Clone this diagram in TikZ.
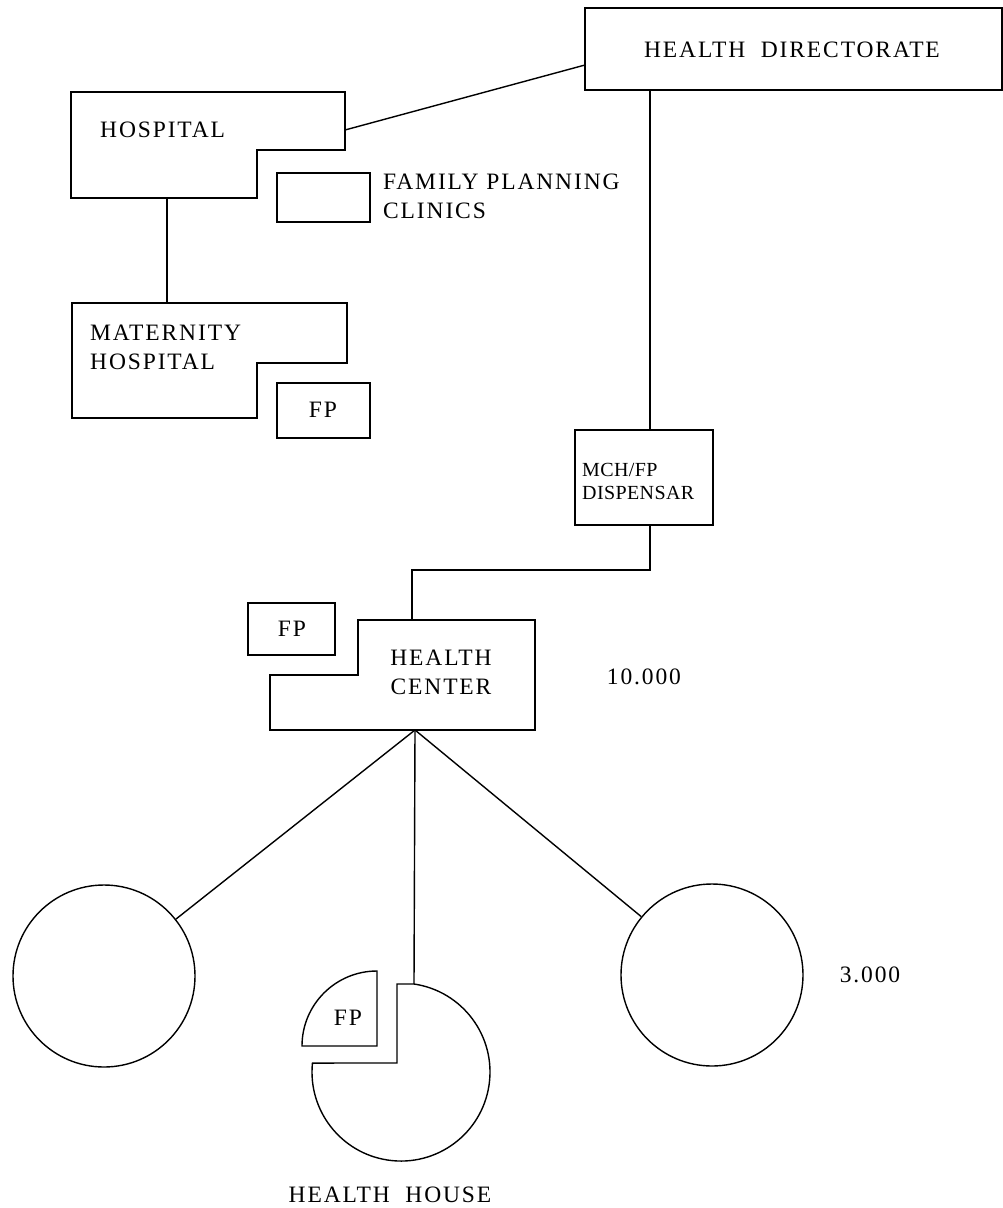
\documentclass[tikz,border=0pt]{standalone}
\usepackage{fontspec}
\setmainfont{Liberation Serif}[LetterSpace=8]
\newfontfamily\smallserif{Liberation Serif}[LetterSpace=2]
\begin{document}
\begin{tikzpicture}[x=1pt,y=-1pt,
  ln/.style={line width=1.4pt, line join=miter},
  txt/.style={inner sep=0pt, font=\fontsize{23.5}{29}\selectfont, align=left},
  smalltxt/.style={inner sep=0pt, font=\smallserif\fontsize{20}{23}\selectfont, align=left},
  ring/.style={circle, draw, line width=1.4pt, minimum size=182pt, inner sep=0pt}]
\useasboundingbox (0,0) rectangle (1003,1208);

% Health directorate
\draw[ln] (585,8) rectangle (1002,90);
\node[txt] (hd) at (792,50) {HEALTH\ \ DIRECTORATE};
\coordinate (hdL) at (585,65);
\coordinate (hdB) at (650,90);

% Hospital
\draw[ln] (71,92) -- (345,92) -- (345,150) -- (257,150) -- (257,198) -- (71,198) -- cycle;
\node[txt, anchor=west] (hosp) at (100,130) {HOSPITAL};
\coordinate (hospR) at (345,130);
\coordinate (hospB) at (167,198);

% Family planning clinics
\draw[ln] (277,173) rectangle (370,222);
\node[txt, anchor=west] (fpc) at (383,196) {FAMILY PLANNING\\CLINICS};

% Maternity hospital
\draw[ln] (72,303) -- (347,303) -- (347,363) -- (257,363) -- (257,418) -- (72,418) -- cycle;
\node[txt, anchor=west] (mat) at (90,347) {MATERNITY\\HOSPITAL};
\coordinate (matT) at (167,303);
\draw[ln] (277,383) rectangle (370,438);
\node[txt] (fp1) at (323,410) {FP};

% MCH/FP dispensary
\draw[ln] (575,430) rectangle (713,525);
\node[smalltxt, anchor=west] (mch) at (582,481) {MCH/FP\\DISPENSAR};
\coordinate (mchT) at (650,430);
\coordinate (mchB) at (650,525);
\coordinate (bend1) at (650,570);
\coordinate (bend2) at (412,570);

% Health center
\draw[ln] (358,620) -- (535,620) -- (535,730) -- (270,730) -- (270,675) -- (358,675) -- cycle;
\node[txt, align=center] (hc) at (441,672) {HEALTH\\CENTER};
\coordinate (hcT) at (412,620);
\coordinate (hcB) at (415,730);
\draw[ln] (248,603) rectangle (335,655);
\node[txt] (fp2) at (292,629) {FP};
\node[txt] (n10) at (644,677) {10.000};

% Circles
\node[ring] (lc) at (104,976) {};
\node[ring] (rc) at (712,975) {};
\node[txt] (n3) at (870,975) {3.000};

% Health house
\draw[ln] (414,984) arc[start angle=-81.6, end angle=185.8, radius=89] -- (397,1063) -- (397,984) -- cycle;
\coordinate (hhT) at (414,984);
\draw[ln] (377,1046) -- (302,1046) arc[start angle=180, end angle=270, radius=75] -- cycle;
\node[txt] (fp3) at (348,1018) {FP};
\node[txt] (hh) at (390,1195) {HEALTH\ \ HOUSE};

% Connectors
\draw[ln] (hospR) -- (hdL);
\draw[ln] (hospB) -- (matT);
\draw[ln] (hdB) -- (mchT);
\draw[ln] (mchB) -- (bend1) -- (bend2) -- (hcT);
\draw[ln] (hcB) -- (lc);
\draw[ln] (hcB) -- (hhT);
\draw[ln] (hcB) -- (rc);
\end{tikzpicture}
\end{document}
